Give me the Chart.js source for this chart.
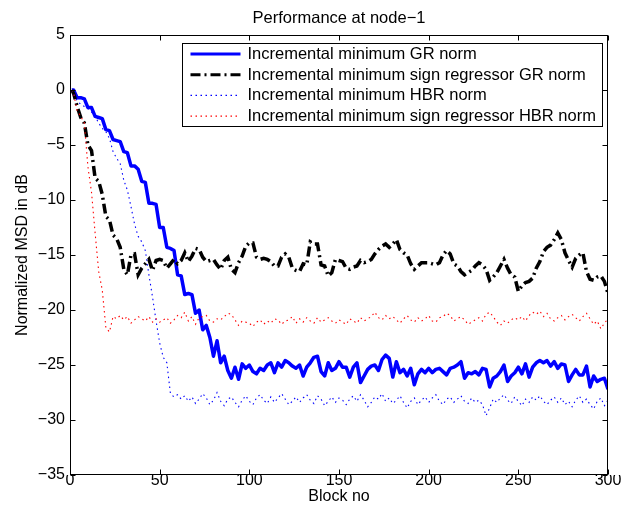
<!DOCTYPE html>
<html>
<head>
<meta charset="utf-8">
<title>Performance at node-1</title>
<script src="https://cdn.jsdelivr.net/npm/chart.js@4.4.1/dist/chart.umd.min.js"></script>
<style>
  html, body { margin: 0; padding: 0; background: #ffffff; }
  canvas { display: block; }
</style>
</head>
<body>
<canvas id="msd" width="623" height="508"></canvas>
<script>
// Block indices at which the MSD curves are sampled: block 1, then every second block up to 300.
const blocks = [1];
for (let b = 2; b <= 300; b += 2) blocks.push(b);

// Normalized MSD (dB) per block.
const grNorm = [
  0, 0, -0.7, -0.7, -0.8, -1.6, -1.6, -2.4, -2.5, -2.6,
  -3.6, -3.7, -4.5, -4.6, -4.7, -5.6, -5.7, -6.9, -6.9, -7.2,
  -8.3, -8.4, -10.3, -10.3, -10.4, -12.5, -12.5, -14.3, -14.4, -14.6,
  -16.8, -16.9, -18.6, -18.5, -18.6, -20.3, -20.0, -21.8, -21.4, -22.5,
  -24.2, -22.8, -24.8, -24.2, -25.5, -26.2, -25.2, -26.3, -24.9, -25.3,
  -25.0, -25.6, -25.8, -25.3, -25.5, -25.0, -24.8, -25.7, -24.8, -25.2,
  -24.6, -24.8, -25.1, -25.3, -25.0, -26.0, -25.2, -24.8, -24.3, -24.2,
  -25.6, -26.0, -24.8, -25.5, -25.3, -24.7, -25.2, -25.2, -26.1, -25.2,
  -24.8, -26.6, -26.0, -25.4, -25.1, -25.0, -25.5, -24.5, -24.1, -24.4,
  -26.1, -24.7, -25.7, -25.4, -26.0, -25.3, -26.8, -25.8, -25.4, -25.7,
  -25.3, -25.7, -25.4, -25.3, -25.6, -25.9, -25.3, -25.2, -25.0, -24.7,
  -26.2, -25.7, -25.8, -25.6, -25.9, -25.3, -25.4, -27.0, -26.2, -26.0,
  -25.6, -25.0, -26.5, -26.0, -25.7, -25.2, -25.8, -24.9, -26.1, -25.2,
  -24.8, -24.6, -24.8, -24.6, -25.1, -24.7, -25.3, -24.9, -25.0, -26.5,
  -25.9, -25.4, -25.9, -25.9, -25.1, -27.0, -26.0, -26.5, -26.3, -26.2,
  -27.2
];

const signGrNorm = [
  0, -0.3, -1.5, -2.5, -3.0, -5.0, -5.5, -8.0, -8.3, -9.5,
  -11.5, -11.8, -13.2, -13.5, -14.3, -16.3, -16.8, -15.0, -14.9, -16.8,
  -16.2, -15.8, -15.4, -16.4, -15.5, -15.4, -15.5, -16.2, -15.8, -15.4,
  -15.8, -15.5, -14.8, -15.6, -15.1, -14.4, -14.5, -15.2, -15.6, -15.5,
  -15.4, -15.9, -16.3, -15.5, -15.2, -16.3, -16.6, -15.7, -15.1, -14.2,
  -13.9, -13.9, -15.2, -15.4, -15.3, -15.4, -15.6, -16.0, -16.0, -15.2,
  -14.9, -15.2, -16.2, -16.4, -16.5, -15.8, -15.9, -13.8, -14.0, -14.0,
  -15.9, -16.0, -16.9, -16.6, -15.4, -15.5, -15.6, -16.2, -16.3, -16.1,
  -16.0, -15.5, -15.7, -15.6, -15.4, -14.9, -14.5, -14.2, -14.0, -14.3,
  -14.0, -13.6, -14.5, -14.8, -15.0, -15.8, -16.3, -16.0, -15.7, -15.7,
  -15.7, -15.8, -15.9, -15.7, -15.0, -14.6, -14.9, -15.8, -16.0, -16.5,
  -16.8, -16.6, -16.4, -16.0, -15.7, -15.9, -16.3, -17.3, -17.0, -16.6,
  -16.0, -15.4, -16.2, -16.8, -17.0, -18.3, -17.8, -17.5, -17.4, -17.1,
  -16.2, -15.6, -14.7, -14.3, -14.1, -13.6, -13.0, -13.6, -14.8, -15.5,
  -16.1, -15.3, -15.0, -14.8, -16.5, -17.2, -17.3, -17.0, -16.9, -17.4,
  -18.5
];

const hbrNorm = [
  0, -0.3, -1.0, -1.3, -1.5, -1.7, -2.0, -2.4, -3.0, -3.5,
  -3.8, -4.4, -5.6, -6.2, -6.7, -8.2, -9.1, -10.6, -12.2, -13.3,
  -13.8, -14.6, -16.8, -18.8, -21.0, -23.0, -24.3, -24.8, -27.6, -27.9,
  -27.7, -28.1, -27.8, -28.3, -27.9, -28.5, -28.1, -27.6, -28.0, -28.6,
  -28.2, -27.5, -28.3, -28.7, -28.1, -27.9, -28.4, -28.8, -28.2, -27.8,
  -28.3, -28.6, -28.0, -27.7, -28.2, -28.5, -27.9, -28.4, -28.0, -27.6,
  -28.1, -28.6, -28.3, -27.9, -28.4, -28.0, -27.7, -28.2, -28.5, -27.8,
  -28.1, -28.7, -28.3, -27.9, -28.4, -28.0, -28.2, -28.6, -28.1, -27.8,
  -28.3, -27.7, -28.2, -28.8, -28.4, -27.9, -28.1, -27.6, -28.3, -28.0,
  -28.5, -28.2, -27.8, -28.4, -28.9, -28.3, -28.0, -28.6, -28.2, -27.9,
  -28.4, -28.0, -27.7, -28.3, -28.6, -28.1, -27.9, -28.4, -28.1, -27.8,
  -28.3, -28.5, -28.0, -28.4, -28.2, -28.6, -29.6, -28.9, -28.1, -28.4,
  -28.0, -27.7, -28.2, -28.5, -27.9, -28.3, -28.7, -28.1, -28.4, -27.9,
  -28.2, -27.8, -28.3, -28.6, -28.2, -27.9, -28.4, -28.0, -28.6, -28.3,
  -28.8, -28.2, -27.8, -28.4, -28.1, -28.6, -29.0, -28.3, -28.0, -28.7,
  -28.2
];

const signHbrNorm = [
  0, -0.3, -1.9, -2.4, -3.0, -7.0, -9.3, -13.0, -16.5, -18.2,
  -21.6, -22.0, -20.6, -20.8, -20.5, -20.9, -20.6, -21.2, -20.9, -20.6,
  -20.8, -21.0, -20.6, -21.1, -20.8, -21.1, -20.9, -20.7, -21.2, -20.9,
  -20.5, -20.7, -20.2, -21.0, -20.6, -21.3, -20.7, -20.6, -20.5, -21.0,
  -21.1, -20.8, -20.9, -20.6, -20.3, -20.4, -20.9, -21.4, -21.0, -21.1,
  -21.2, -21.5, -21.1, -20.9, -21.3, -21.0, -21.2, -20.8, -20.9, -21.3,
  -21.0, -20.9, -20.6, -21.2, -20.8, -21.1, -20.7, -21.0, -21.2, -20.7,
  -21.1, -20.9, -20.7, -21.0, -21.2, -20.9, -21.1, -21.3, -20.8, -21.0,
  -21.2, -20.7, -21.0, -20.8, -20.6, -20.2, -20.7, -20.9, -20.5, -20.8,
  -20.6, -20.9, -21.2, -20.8, -20.5, -20.9, -21.1, -20.7, -21.0, -20.8,
  -20.5, -21.0, -21.1, -20.7, -20.6, -20.3, -20.5, -21.0, -20.8, -20.6,
  -20.9, -21.3, -21.1, -20.9, -20.7, -21.0, -20.4, -20.2, -20.6, -21.1,
  -21.4, -21.0, -21.2, -20.9, -20.7, -20.9, -20.6, -21.0, -20.5, -20.2,
  -20.4, -20.1, -20.6, -20.3, -20.8, -21.0, -20.7, -20.5, -20.9, -20.6,
  -20.4, -20.7, -21.0, -20.6, -20.3, -20.8, -21.3, -21.0, -21.7, -21.2,
  -20.8
];

const seriesNames = [
  'Incremental minimum GR norm',
  'Incremental minimum sign regressor GR norm',
  'Incremental minimum HBR norm',
  'Incremental minimum sign regressor HBR norm'
];

const xTicks = [0, 50, 100, 150, 200, 250, 300];
const yTicks = [5, 0, -5, -10, -15, -20, -25, -30, -35];

const FONT = '"Liberation Sans", Arial, Helvetica, sans-serif';
const MINUS = '\u2212';

function fmt(v) {
  return v < 0 ? MINUS + Math.abs(v) : String(v);
}

// Axes box, inward tick marks, title, axis labels and the legend panel.
const framePlugin = {
  id: 'frame',
  afterDatasetsDraw(chart) {
    const { ctx, chartArea: a, scales: { x, y } } = chart;
    const L = Math.round(a.left) + 0.5, R = Math.round(a.right) - 0.5;
    const T = Math.round(a.top) + 0.5, B = Math.round(a.bottom) - 0.5;
    const tick = 5;
    ctx.save();
    ctx.setLineDash([]);
    ctx.strokeStyle = '#000';
    ctx.lineWidth = 1;
    ctx.beginPath();
    xTicks.forEach(v => {
      const px = Math.round(x.getPixelForValue(v)) + 0.5;
      ctx.moveTo(px, B); ctx.lineTo(px, B - tick);
      ctx.moveTo(px, T); ctx.lineTo(px, T + tick);
    });
    yTicks.forEach(v => {
      const py = Math.round(y.getPixelForValue(v)) + 0.5;
      ctx.moveTo(L, py); ctx.lineTo(L + tick, py);
      ctx.moveTo(R, py); ctx.lineTo(R - tick, py);
    });
    ctx.stroke();
    ctx.strokeRect(L, T, R - L, B - T);

    // Titles
    const cx = (a.left + a.right) / 2;
    ctx.fillStyle = '#000';
    ctx.font = '16.5px ' + FONT;
    ctx.textAlign = 'center';
    ctx.textBaseline = 'middle';
    ctx.fillText('Performance at node' + MINUS + '1', cx, 18);
    ctx.font = '16px ' + FONT;
    ctx.fillText('Block no', cx, 497);
    ctx.save();
    ctx.translate(23, (a.top + a.bottom) / 2);
    ctx.rotate(-Math.PI / 2);
    ctx.fillText('Normalized MSD in dB', 0, 0);
    ctx.restore();

    // Legend panel
    const lw = 420, lh = 83;
    const lx = Math.round(a.right) - 6 - lw + 0.5;
    const ly = Math.round(a.top) + 8 + 0.5;
    ctx.fillStyle = '#fff';
    ctx.fillRect(lx, ly, lw, lh);
    ctx.strokeStyle = '#000';
    ctx.lineWidth = 1;
    ctx.strokeRect(lx, ly, lw, lh);
    const rowH = lh / 4;
    chart.data.datasets.forEach((ds, i) => {
      const ry = ly + rowH * (i + 0.5);
      ctx.save();
      ctx.strokeStyle = ds.borderColor;
      ctx.lineWidth = ds.legendWidth || ds.borderWidth;
      ctx.setLineDash(ds.borderDash || []);
      ctx.beginPath();
      ctx.moveTo(lx + 8, ry);
      ctx.lineTo(lx + 58, ry);
      ctx.stroke();
      ctx.restore();
      ctx.fillStyle = '#000';
      ctx.font = '16.5px ' + FONT;
      ctx.textAlign = 'left';
      ctx.textBaseline = 'middle';
      ctx.fillText(ds.label, lx + 65, ry + 0.5);
    });
    ctx.restore();
  }
};

new Chart(document.getElementById('msd'), {
  type: 'line',
  data: {
    labels: blocks,
    datasets: [
      {
        label: seriesNames[0], data: grNorm,
        borderColor: '#0000ff', borderWidth: 3.5, legendWidth: 3,
        borderJoinStyle: 'round', order: 3
      },
      {
        label: seriesNames[1], data: signGrNorm,
        borderColor: '#000000', borderWidth: 3.5, legendWidth: 3,
        borderDash: [10, 4, 2, 4], order: 2
      },
      {
        label: seriesNames[2], data: hbrNorm,
        borderColor: '#0000ff', borderWidth: 1.1,
        borderDash: [1.5, 3.5], order: 1
      },
      {
        label: seriesNames[3], data: signHbrNorm,
        borderColor: '#ff0000', borderWidth: 1.1,
        borderDash: [1.5, 3.5], order: 0
      }
    ]
  },
  options: {
    responsive: false,
    animation: false,
    devicePixelRatio: 1,
    layout: { padding: { left: 0, right: 15, top: 35, bottom: 0 } },
    elements: {
      point: { radius: 0, hoverRadius: 0 },
      line: { tension: 0, fill: false }
    },
    plugins: {
      legend: { display: false },
      title: { display: false },
      tooltip: { enabled: false }
    },
    events: [],
    scales: {
      x: {
        type: 'linear',
        min: 0, max: 300,
        grid: { display: false, drawTicks: false },
        border: { display: false },
        ticks: {
          color: '#000', padding: -4, maxRotation: 0, autoSkip: false,
          font: { family: FONT, size: 16 },
          callback: v => fmt(v)
        },
        afterBuildTicks: s => { s.ticks = xTicks.map(v => ({ value: v })); },
        afterFit: s => { s.height = 33; }
      },
      y: {
        type: 'linear',
        min: -35, max: 5,
        grid: { display: false, drawTicks: false },
        border: { display: false },
        ticks: {
          color: '#000', padding: 5, autoSkip: false,
          font: { family: FONT, size: 16 },
          callback: v => fmt(v)
        },
        afterBuildTicks: s => { s.ticks = yTicks.map(v => ({ value: v })); },
        afterFit: s => { s.width = 70; }
      }
    }
  },
  plugins: [framePlugin]
});
</script>
</body>
</html>
